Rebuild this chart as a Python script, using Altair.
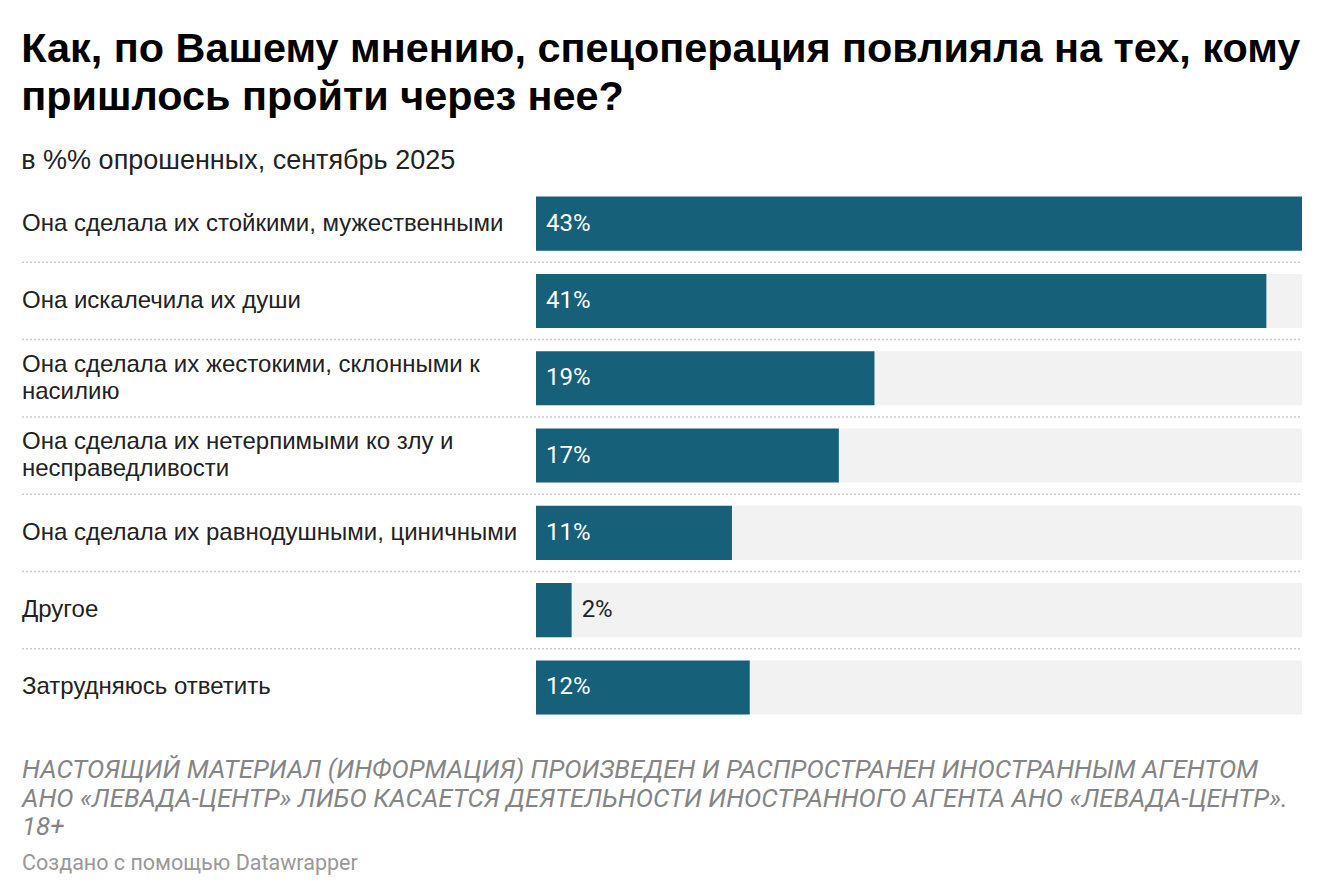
import altair as alt
import pandas as pd

categories = [
    "Она сделала их стойкими, мужественными",
    "Она искалечила их души",
    "Она сделала их жестокими, склонными к насилию",
    "Она сделала их нетерпимыми ко злу и несправедливости",
    "Она сделала их равнодушными, циничными",
    "Другое",
    "Затрудняюсь ответить",
]
label_lines = [
    ["Она сделала их стойкими, мужественными"],
    ["Она искалечила их души"],
    ["Она сделала их жестокими, склонными к", "насилию"],
    ["Она сделала их нетерпимыми ко злу и", "несправедливости"],
    ["Она сделала их равнодушными, циничными"],
    ["Другое"],
    ["Затрудняюсь ответить"],
]
values = [43, 41, 19, 17, 11, 2, 12]

title_lines = [
    "Как, по Вашему мнению, спецоперация повлияла на тех, кому",
    "пришлось пройти через нее?",
]
subtitle = "в %% опрошенных, сентябрь 2025"
footer_lines = [
    "НАСТОЯЩИЙ МАТЕРИАЛ (ИНФОРМАЦИЯ) ПРОИЗВЕДЕН И РАСПРОСТРАНЕН ИНОСТРАННЫМ АГЕНТОМ",
    "АНО «ЛЕВАДА-ЦЕНТР» ЛИБО КАСАЕТСЯ ДЕЯТЕЛЬНОСТИ ИНОСТРАННОГО АГЕНТА АНО «ЛЕВАДА-ЦЕНТР».",
    "18+",
]
credit = "Создано с помощью Datawrapper"

vmax = max(values)
df = pd.DataFrame({
    "cat": categories,
    "lines": label_lines,
    "nlines": [len(l) for l in label_lines],
    "value": values,
    "bg": [vmax] * len(values),
    "label": [f"{v}%" for v in values],
    "inside": [v >= 5 for v in values],
})
df["lpos"] = [0 if ins else v for ins, v in zip(df["inside"], df["value"])]

W = 1280
STEP = 77.3
H = STEP * len(categories)
BAR_COLOR = "#17607a"
LH = 27

xs = alt.Scale(domain=[0, vmax], range=[514, W], nice=False, zero=True)
ys = alt.Scale(domain=categories, paddingInner=0.3, paddingOuter=0.15)

base = alt.Chart(df).encode(y=alt.Y("cat:N", scale=ys, axis=None, sort=categories))

seps = alt.Chart(df.iloc[:-1]).mark_rule(
    color="#cccccc", strokeWidth=1.5, strokeDash=[2, 2], yOffset=STEP / 2
).encode(
    y=alt.Y("cat:N", scale=ys, axis=None, sort=categories),
    x=alt.value(0), x2=alt.value(W),
)

bg = base.mark_bar(color="#f2f2f2").encode(x=alt.X("bg:Q", scale=xs, axis=None))
bars = base.mark_bar(color=BAR_COLOR).encode(x=alt.X("value:Q", scale=xs, axis=None))

label_style = dict(align="left", baseline="middle", font="Liberation Sans",
                   fontSize=24, color="#222222", lineHeight=LH)
labels1 = base.mark_text(**label_style).encode(
    x=alt.value(0), text="lines"
).transform_filter("datum.nlines == 1")
labels2 = base.mark_text(dy=-LH / 2, **label_style).encode(
    x=alt.value(0), text="lines"
).transform_filter("datum.nlines == 2")

vals = base.mark_text(
    align="left", baseline="middle", font="Roboto", fontSize=24, dx=10,
).encode(
    x=alt.X("lpos:Q", scale=xs, axis=None),
    text="label:N",
    color=alt.condition("datum.inside", alt.value("#ffffff"), alt.value("#222222")),
)

main = alt.layer(seps, bg, bars, labels1, labels2, vals).properties(width=W, height=H)

fdf = pd.DataFrame({"t": [footer_lines]})
cdf = pd.DataFrame({"t": [credit]})
foot = alt.Chart(fdf).mark_text(
    align="left", baseline="top", font="Roboto", fontStyle="italic",
    fontSize=25.9, color="#858585", lineHeight=28.5,
).encode(x=alt.value(0), y=alt.value(31), text="t")
cred = alt.Chart(cdf).mark_text(
    align="left", baseline="top", font="Roboto", fontSize=21.5, color="#999999",
).encode(x=alt.value(0), y=alt.value(126), text="t:N")
footer = alt.layer(foot, cred).properties(width=W, height=150)

chart = alt.vconcat(main, footer, spacing=0).properties(
    title=alt.TitleParams(
        text=title_lines, subtitle=subtitle, anchor="start",
        font="Liberation Sans", fontSize=41.4, fontWeight="bold", color="#000000",
        lineHeight=48, subtitleFont="Liberation Sans", subtitleFontSize=27,
        subtitleColor="#222222", subtitlePadding=30, offset=11,
    ),
    padding={"left": 13, "top": 20, "right": 10, "bottom": 0},
    background="#ffffff",
).configure_view(stroke=None)

chart.save("out.html", embed_options={"renderer": "svg", "actions": False})
